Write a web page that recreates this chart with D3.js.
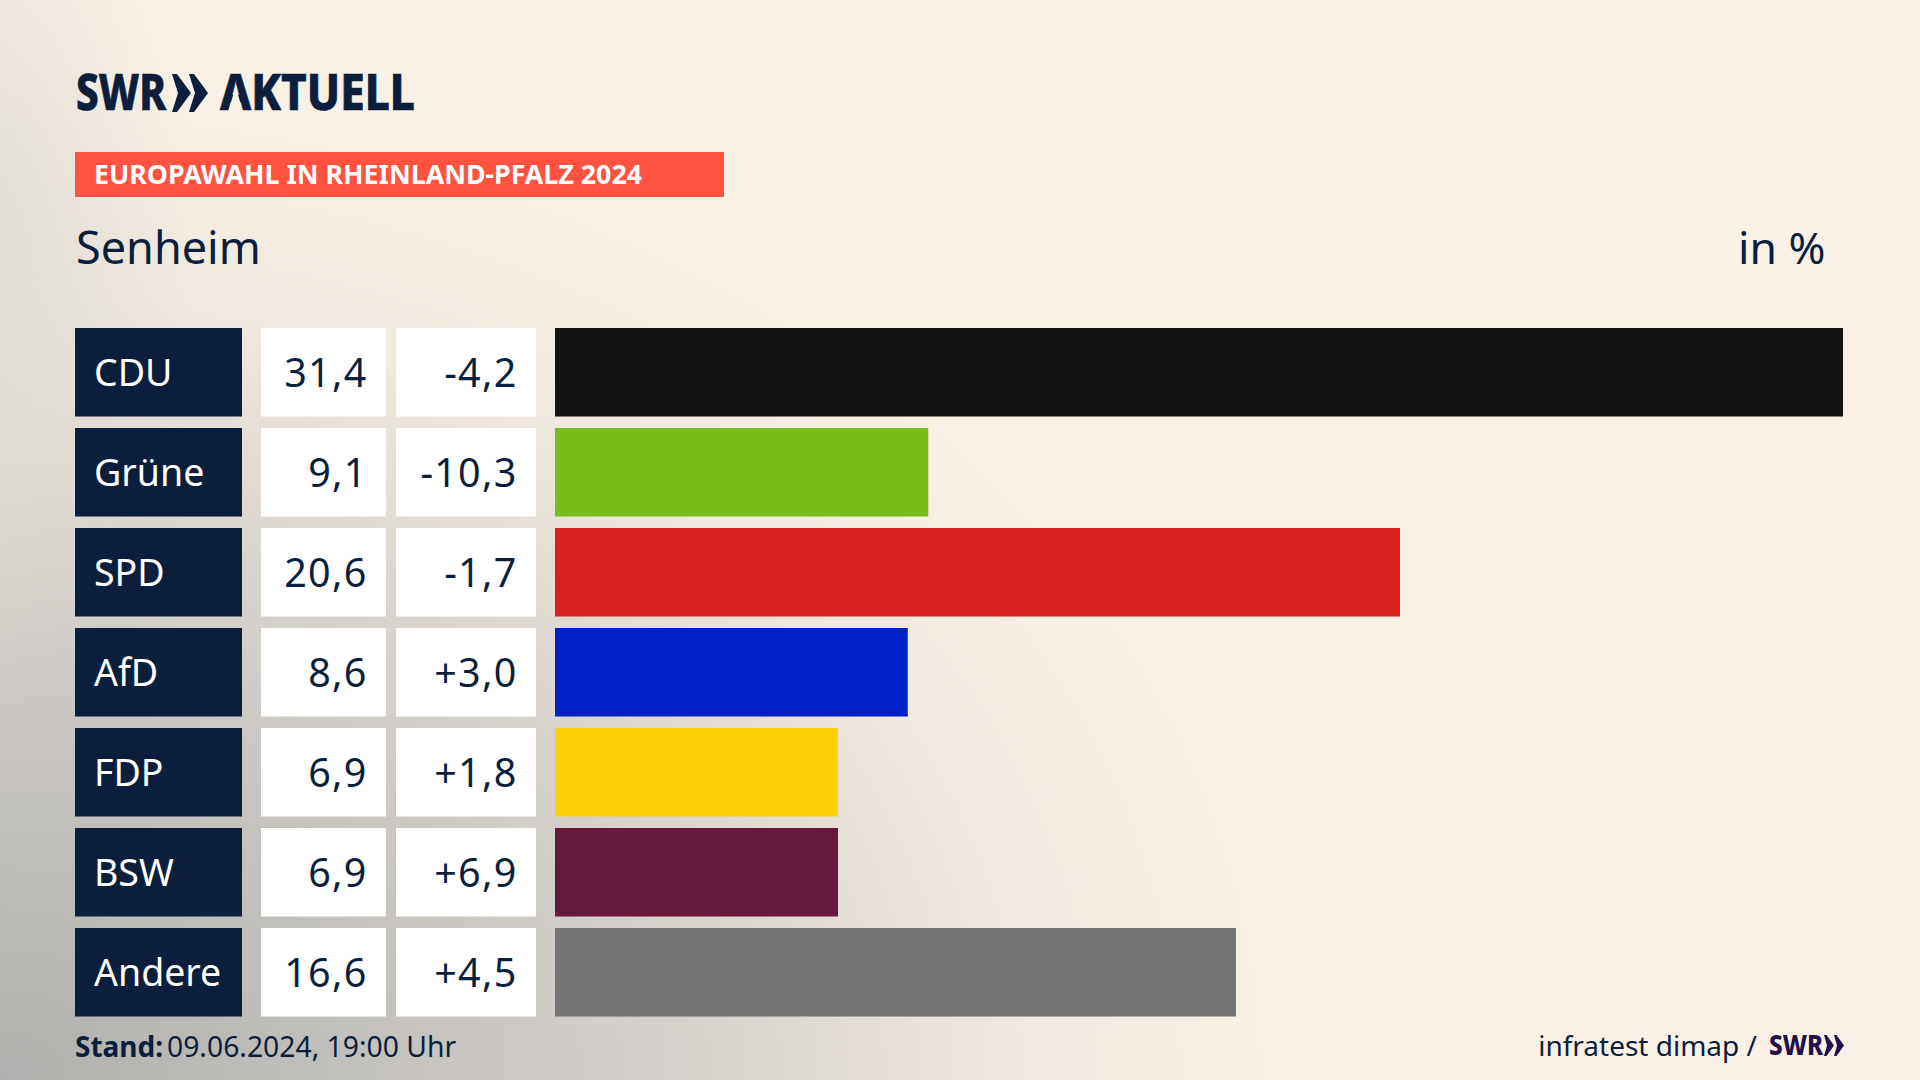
<!DOCTYPE html>
<html><head><meta charset="utf-8">
<script src="https://cdn.jsdelivr.net/npm/d3@7"></script>
<style>html,body{margin:0;padding:0;background:#faf1e6;overflow:hidden}svg{display:block}text{font-family:"Noto Sans",sans-serif}</style>
</head><body><div id="chart"></div>
<script>
const parties = ["CDU","Grüne","SPD","AfD","FDP","BSW","Andere"];
const shares = [31.4,9.1,20.6,8.6,6.9,6.9,16.6];
const changes = [-4.2,-10.3,-1.7,3.0,1.8,6.9,4.5];
const colors = ["#131313","#7bbd18","#d8201d","#0021c8","#ffcf0a","#67193d","#727374"];
const brand = "SWR";
const show = "AKTUELL";
const banner = "EUROPAWAHL IN RHEINLAND-PFALZ 2024";
const place = "Senheim";
const unit = "in %";
const standLabel = "Stand:";
const standValue = "09.06.2024, 19:00 Uhr";
const sourceLabel = "infratest dimap /";

const navy = "#0b1f3d";
const cream = "#faf1e6";
const W = 1920, H = 1080;
const svg = d3.select("#chart").append("svg").attr("width",W).attr("height",H);
const defs = svg.append("defs");
const bg = defs.append("radialGradient").attr("id","bg").attr("gradientUnits","userSpaceOnUse")
  .attr("cx",0).attr("cy",0).attr("r",1).attr("gradientTransform","translate(0,1080) scale(1320,1010)");
[[0,"#b0b0ae"],[.27,"#c2c0bc"],[.55,"#d9d4ce"],[.78,"#f0e9df"],[1,cream]]
  .forEach(([o,c])=>bg.append("stop").attr("offset",o).attr("stop-color",c));
const side = defs.append("radialGradient").attr("id","side").attr("gradientUnits","userSpaceOnUse")
  .attr("cx",0).attr("cy",0).attr("r",1).attr("gradientTransform","translate(-40,260) scale(240,470)");
[[0,"#dfdbd3",1],[1,"#dfdbd3",0]]
  .forEach(([o,c,a])=>side.append("stop").attr("offset",o).attr("stop-color",c).attr("stop-opacity",a));
svg.append("rect").attr("width",W).attr("height",H).attr("fill","url(#bg)");
svg.append("rect").attr("width",W).attr("height",H).attr("fill","url(#side)");

const fmt = v => v.toFixed(1).replace(".",",");
const fmtChange = v => (v>0?"+":"") + fmt(v);

const y = d3.scaleBand().domain(parties).range([328,1016.5]).paddingInner(.115).paddingOuter(0).align(0);
const x = d3.scaleLinear().domain([0,d3.max(shares)]).range([555,1843]);

const rows = svg.selectAll("g.row").data(parties).join("g").attr("class","row");
rows.append("rect").attr("x",75).attr("width",167).attr("y",d=>y(d)).attr("height",y.bandwidth()).attr("fill",navy);
rows.append("rect").attr("x",261).attr("width",125).attr("y",d=>y(d)).attr("height",y.bandwidth()).attr("fill","#fff");
rows.append("rect").attr("x",396).attr("width",140).attr("y",d=>y(d)).attr("height",y.bandwidth()).attr("fill","#fff");
rows.append("rect").attr("x",x(0)).attr("width",(d,i)=>x(shares[i])-x(0)).attr("y",d=>y(d)).attr("height",y.bandwidth()).attr("fill",(d,i)=>colors[i]);
const base = d => y(d)+58;
rows.append("text").attr("x",94).attr("y",base).attr("font-size",37.5).attr("fill","#fff").text(d=>d);
rows.append("text").attr("x",367.5).attr("y",d=>base(d)+.5).attr("font-size",39.5).attr("letter-spacing",1.2).attr("text-anchor","end").attr("fill",navy).text((d,i)=>fmt(shares[i]));
rows.append("text").attr("x",517.5).attr("y",d=>base(d)+.5).attr("font-size",39.5).attr("letter-spacing",1.2).attr("text-anchor","end").attr("fill",navy).text((d,i)=>fmtChange(changes[i]));

// Header logo
const chevrons = (xs,top,bot,w,lip,notch,fill) => xs.forEach(x0=>svg.append("path").attr("fill",fill)
  .attr("d",`M${x0},${top}L${x0+lip},${top}L${x0+w},${(top+bot)/2}L${x0+lip},${bot}L${x0},${bot}L${x0+notch},${(top+bot)/2}Z`));
const logoText = (t,x0,len) => svg.append("text").attr("x",x0).attr("y",110).attr("font-size",49).attr("font-weight",800)
  .attr("fill",navy).attr("stroke",navy).attr("stroke-width",.7)
  .attr("textLength",len).attr("lengthAdjust","spacingAndGlyphs").text(t);
logoText(brand,76,90);
chevrons([172,189],74,112,19,5,6,navy);
const aktuell = logoText(show,220,195);
// the logo's A has no crossbar: open its counter with the page colour
const a = aktuell.node().getExtentOfChar(0);
const cx = a.x + a.width/2, foot = a.width*.24;
svg.append("path").attr("fill","#f9f0e5").attr("d",`M${cx},87L${cx+foot},111.5L${cx-foot},111.5Z`);

svg.append("rect").attr("x",75).attr("y",152).attr("width",649).attr("height",45).attr("fill","#ff5240");
svg.append("text").attr("x",94).attr("y",184).attr("font-size",27).attr("font-weight",700).attr("fill","#fff")
  .attr("textLength",548).attr("lengthAdjust","spacingAndGlyphs").text(banner);
svg.append("text").attr("x",76).attr("y",264).attr("font-size",45).attr("fill",navy).text(place);
svg.append("text").attr("x",1825.5).attr("y",264).attr("font-size",44.5).attr("text-anchor","end").attr("fill",navy).text(unit);

// Footer
svg.append("text").attr("x",75).attr("y",1057).attr("font-size",28).attr("font-weight",700).attr("fill",navy).text(standLabel);
svg.append("text").attr("x",167).attr("y",1057).attr("font-size",28.3).attr("fill",navy).text(standValue);
svg.append("text").attr("x",1757).attr("y",1056).attr("font-size",28).attr("text-anchor","end").attr("fill",navy).text(sourceLabel);
svg.append("text").attr("x",1769).attr("y",1055).attr("font-size",28).attr("font-weight",800).attr("fill","#21104b")
  .attr("textLength",54).attr("lengthAdjust","spacingAndGlyphs").text(brand);
chevrons([1824,1834],1035,1056,10,2.5,3,"#21104b");
</script></body></html>
